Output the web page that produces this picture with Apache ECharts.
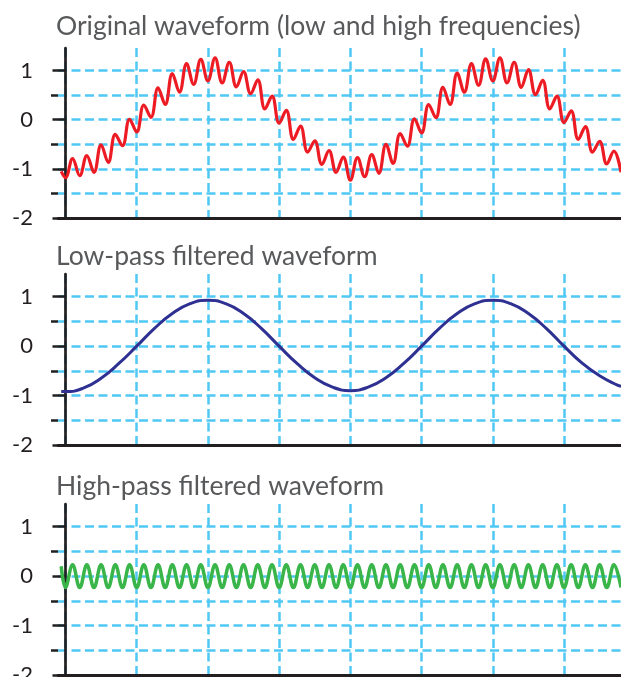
<!DOCTYPE html>
<html><head><meta charset="utf-8">
<script src="https://cdn.jsdelivr.net/npm/echarts@6/dist/echarts.min.js"></script>
<style>html,body{margin:0;padding:0;background:#fff}#c{width:621px;height:677px}</style>
</head><body><div id="c"></div>
<script>
// ---- data ----
const panelTitles = [
  'Original waveform (low and high frequencies)',
  'Low-pass filtered waveform',
  'High-pass filtered waveform'
];
const yMajorTicks = [-2, -1, 0, 1];
const yMinorTicks = [-1.5, -0.5, 0.5];
const xGridValues = [0, 1, 2, 3, 4, 5, 6, 7];

// sample positions (grid units) for the original and high-pass curves
const sampleX = [-0.06, 0, 0.1, 0.2, 0.3, 0.4, 0.5, 0.6, 0.7, 0.8, 0.9, 1, 1.1, 1.2, 1.3, 1.4, 1.5, 1.6, 1.7, 1.8, 1.9,
  2, 2.1, 2.2, 2.3, 2.4, 2.5, 2.6, 2.7, 2.8, 2.9, 3, 3.1, 3.2, 3.3, 3.4, 3.5, 3.6, 3.7, 3.8, 3.9,
  4, 4.1, 4.2, 4.3, 4.4, 4.5, 4.6, 4.7, 4.8, 4.9, 5, 5.1, 5.2, 5.3, 5.4, 5.5, 5.6, 5.7, 5.8, 5.9,
  6, 6.1, 6.2, 6.3, 6.4, 6.5, 6.6, 6.7, 6.8, 6.9, 7, 7.1, 7.2, 7.3, 7.4, 7.5, 7.6, 7.7, 7.8];

const originalY = [-1.05, -1.18, -0.79, -1.14, -0.73, -1.07, -0.51, -0.87, -0.30, -0.53, 0.01,
  -0.25, 0.30, 0.05, 0.65, 0.31, 0.94, 0.56, 1.14, 0.72, 1.23,
  0.79, 1.26, 0.75, 1.17, 0.67, 0.98, 0.53, 0.81, 0.22, 0.48,
  -0.07, 0.19, -0.40, -0.13, -0.66, -0.43, -0.91, -0.63, -1.07, -0.76,
  -1.23, -0.77, -1.16, -0.71, -1.09, -0.50, -0.89, -0.28, -0.54, 0.02,
  -0.27, 0.31, 0.04, 0.66, 0.31, 0.95, 0.56, 1.14, 0.70, 1.24,
  0.79, 1.26, 0.75, 1.17, 0.66, 1.02, 0.51, 0.80, 0.22, 0.48,
  -0.06, 0.18, -0.40, -0.14, -0.66, -0.44, -0.90, -0.64, -1.07];

const highPassY = [0.2, -0.23, 0.23, -0.23, 0.23, -0.23, 0.23, -0.23, 0.23, -0.23, 0.23,
  -0.23, 0.23, -0.23, 0.23, -0.23, 0.23, -0.23, 0.23, -0.23, 0.23,
  -0.23, 0.23, -0.23, 0.23, -0.23, 0.23, -0.23, 0.23, -0.23, 0.23,
  -0.23, 0.23, -0.23, 0.23, -0.23, 0.23, -0.23, 0.23, -0.23, 0.23,
  -0.23, 0.23, -0.23, 0.23, -0.23, 0.23, -0.23, 0.23, -0.23, 0.23,
  -0.23, 0.23, -0.23, 0.23, -0.23, 0.23, -0.23, 0.23, -0.23, 0.23,
  -0.23, 0.23, -0.23, 0.23, -0.23, 0.23, -0.23, 0.23, -0.23, 0.23,
  -0.23, 0.23, -0.23, 0.23, -0.23, 0.23, -0.23, 0.23, -0.23];

const lowPassX = [-0.06, 0, 0.25, 0.5, 0.75, 1, 1.25, 1.5, 1.75, 2, 2.25, 2.5, 2.75, 3, 3.25, 3.5, 3.75,
  4, 4.25, 4.5, 4.75, 5, 5.25, 5.5, 5.75, 6, 6.25, 6.5, 6.75, 7, 7.25, 7.5, 7.75, 7.8];
const lowPassY = [-0.92, -0.92, -0.85, -0.65, -0.35, 0, 0.36, 0.66, 0.86, 0.93, 0.86, 0.66, 0.36, 0, -0.35, -0.64, -0.83,
  -0.90, -0.83, -0.64, -0.35, 0, 0.36, 0.66, 0.86, 0.93, 0.86, 0.66, 0.36, 0, -0.34, -0.60, -0.79, -0.81];

// ---- styling ----
const FONT = 'Lato';
const GRID_BLUE = '#4FC8F4';
const AXIS_DARK = '#231F20';
const dash = { type: [9, 4.5], color: GRID_BLUE, width: 2.5 };
const panels = [
  { top: 48, height: 170, titleTop: 13, color: '#ED1C24', width: 3.2, x: sampleX, y: originalY, smooth: 0.4 },
  { top: 274, height: 171, titleTop: 243, color: '#2E3192', width: 3, x: lowPassX, y: lowPassY, smooth: 0.5 },
  { top: 504, height: 171, titleTop: 473, color: '#39B54A', width: 3.5, x: sampleX, y: highPassY, smooth: 0.4 }
];

const option = { animation: false, title: [], grid: [], xAxis: [], yAxis: [], series: [] };
panels.forEach((p, i) => {
  option.title.push({ text: panelTitles[i], left: 56, top: p.titleTop, padding: 0,
    textStyle: { fontFamily: FONT, fontSize: 26.5, fontWeight: 'normal', color: '#58595B' } });
  option.grid.push({ left: 58, right: 0, top: p.top, height: p.height, outerBoundsMode: 'none' });
  option.xAxis.push({ type: 'value', gridIndex: i, min: -0.105, max: 7.8,
    axisLine: { show: true, onZero: false, lineStyle: { color: AXIS_DARK, width: 3 } },
    axisTick: { show: true, length: 0, customValues: xGridValues },
    axisLabel: { show: false },
    splitLine: { show: true, lineStyle: dash } });
  // major ticks + labels
  option.yAxis.push({ type: 'value', gridIndex: i, min: -2, max: 1.46, position: 'left',
    axisLine: { show: true, lineStyle: { color: AXIS_DARK, width: 2.7 } },
    axisTick: { show: true, length: 13, customValues: yMajorTicks, lineStyle: { color: AXIS_DARK, width: 2.5 } },
    axisLabel: { show: true, customValues: yMajorTicks, margin: 25, fontFamily: FONT, fontSize: 22, color: AXIS_DARK },
    splitLine: { show: true, showMinLine: false, lineStyle: dash } });
  // minor ticks
  option.yAxis.push({ type: 'value', gridIndex: i, min: -2, max: 1.46, position: 'left',
    axisLine: { show: false },
    axisTick: { show: true, length: 7, customValues: yMinorTicks, lineStyle: { color: AXIS_DARK, width: 2.5 } },
    axisLabel: { show: false },
    splitLine: { show: true, lineStyle: dash } });
  option.series.push({ type: 'line', xAxisIndex: i, yAxisIndex: i * 2,
    data: p.x.map((x, j) => [x, p.y[j]]),
    symbol: 'none', smooth: p.smooth, clip: true,
    lineStyle: { color: p.color, width: p.width } });
});

const chart = echarts.init(document.getElementById('c'), null, { renderer: 'canvas' });
chart.setOption(option);
</script>
</body></html>
